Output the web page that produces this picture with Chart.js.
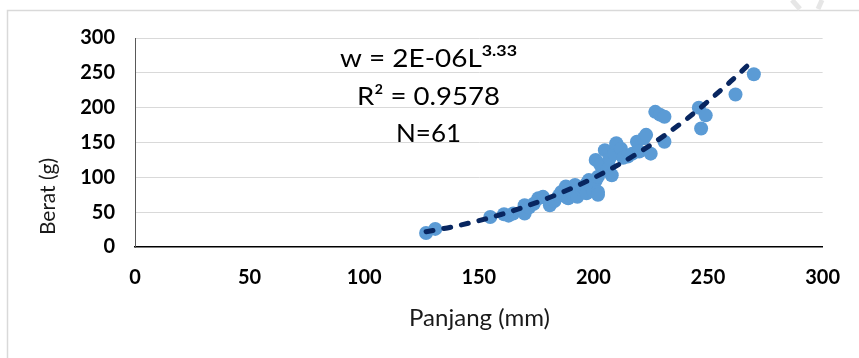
<!DOCTYPE html>
<html><head><meta charset="utf-8">
<script src="https://cdn.jsdelivr.net/npm/chart.js@4.4.1/dist/chart.umd.min.js"></script>
<style>html,body{margin:0;padding:0;background:#fff;}#wrap{width:859px;height:358px;}</style>
</head><body><div id="wrap"><canvas id="c" width="859" height="358"></canvas></div>
<script>
// ---- data ----
const lengthMM = [127,131,155,161,163,165,170,170,172,174,176,178,181,183,185,186,188,188,189,191,192,193,195,196,197,197,198,199,200,201,201,202,202,202,203,205,206,207,207,208,209,210,210,212,213,215,217,219,220,222,223,225,227,229,231,231,246,247,249,262,270];
const weightG  = [20,26,43,47,45,48,48,60,57,62,70,72,60,66,74,79,72,87,70,76,89,72,82,84,77,91,96,86,80,125,95,79,101,75,118,139,110,115,127,103,134,146,149,141,128,130,134,151,137,156,161,134,194,190,187,151,200,170,189,219,248];
const trendL = [127,140,160,180,200,220,240,260,270];
const trendW = [22,30,47,70,99,136,182,238,269];
const xTicks = [0,50,100,150,200,250,300];
const yTicks = [0,50,100,150,200,250,300];
const xTitle = 'Panjang (mm)';
const yTitle = 'Berat (g)';
const eqMain = 'w = 2E-06L';
const eqSup = '3.33';
const r2Text = 'R\u00B2 = 0.9578';
const nText = 'N=61';

const scatterPts = lengthMM.map((l,i)=>({x:l,y:weightG[i]}));
const trendPts = trendL.map((l,i)=>({x:l,y:trendW[i]}));

function drawFit(ctx, parts, x, baseline, width, color){
  let total = 0;
  const ws = parts.map(p=>{ctx.font=p.font; const w=ctx.measureText(p.t).width; total+=w; return w;});
  const sx = width/total;
  ctx.save();
  ctx.translate(x, baseline);
  ctx.scale(sx,1);
  ctx.fillStyle = color;
  ctx.textBaseline = 'alphabetic';
  ctx.textAlign = 'left';
  let cx = 0;
  parts.forEach((p,i)=>{ctx.font=p.font; ctx.fillText(p.t, cx, p.dy||0); cx+=ws[i];});
  ctx.restore();
}

const deco = {
  id:'deco',
  beforeDraw(chart){
    const ctx = chart.ctx;
    ctx.save();
    ctx.fillStyle='#fff'; ctx.fillRect(0,0,chart.width,chart.height);
    ctx.strokeStyle='#d9d9d9'; ctx.lineWidth=1.5;
    ctx.beginPath(); ctx.moveTo(7.5,358); ctx.lineTo(7.5,10.5); ctx.lineTo(859,10.5); ctx.stroke();
    ctx.strokeStyle='#e6e6e6'; ctx.lineWidth=5;
    ctx.beginPath(); ctx.moveTo(792,0); ctx.lineTo(800,9); ctx.stroke();
    ctx.beginPath(); ctx.moveTo(822,0); ctx.lineTo(818,9); ctx.stroke();
    ctx.restore();
  },
  afterDraw(chart){
    const ctx = chart.ctx;
    drawFit(ctx,[{t:eqMain,font:'25px Lato'},{t:eqSup,font:'bold 16px Lato',dy:-11}],340,67,177,'#000');
    drawFit(ctx,[{t:r2Text,font:'25px Lato'}],357,105,143,'#000');
    drawFit(ctx,[{t:nText,font:'25px Lato'}],396,142,65,'#000');
    ctx.save();
    drawFit(ctx,[{t:xTitle,font:'23px Lato'}],409,326,141,'#1a1a1a');
    ctx.translate(55,197); ctx.rotate(-Math.PI/2);
    drawFit(ctx,[{t:yTitle,font:'22px Lato'}],-38,0,77,'#1a1a1a');
    ctx.restore();
  }
};

new Chart(document.getElementById('c'),{
  type:'scatter',
  data:{datasets:[
    {type:'line',data:trendPts,borderColor:'#082660',borderWidth:5,borderDash:[7,11],borderCapStyle:'round',pointRadius:0,fill:false,cubicInterpolationMode:'monotone',tension:0.4},
    {data:scatterPts,backgroundColor:'#5b9bd5',borderWidth:0,pointRadius:7,pointHoverRadius:7}
  ]},
  options:{
    responsive:false,animation:false,
    layout:{padding:{top:38,right:35,bottom:0,left:0}},
    plugins:{legend:{display:false},tooltip:{enabled:false}},
    scales:{
      x:{type:'linear',min:0,max:300,
        afterBuildTicks:s=>{s.ticks=xTicks.map(v=>({value:v}));},
        ticks:{font:{family:'Lato',size:20,weight:'bold'},color:'#000',padding:19,maxRotation:0},
        grid:{display:false,drawTicks:false},
        border:{display:true,color:'#000',width:1.5},
        afterFit:s=>{s.height=111;}},
      y:{type:'linear',min:0,max:300,
        afterBuildTicks:s=>{s.ticks=yTicks.map(v=>({value:v}));},
        ticks:{font:{family:'Lato',size:20,weight:'bold'},color:'#000',padding:20},
        grid:{drawTicks:false,lineWidth:1,color:c=>c.tick&&c.tick.value===0?'rgba(0,0,0,0)':'#d9d9d9'},
        border:{display:true,color:'#595959',width:1},
        afterFit:s=>{s.width=135;}}
    }
  },
  plugins:[deco]
});
</script></body></html>
